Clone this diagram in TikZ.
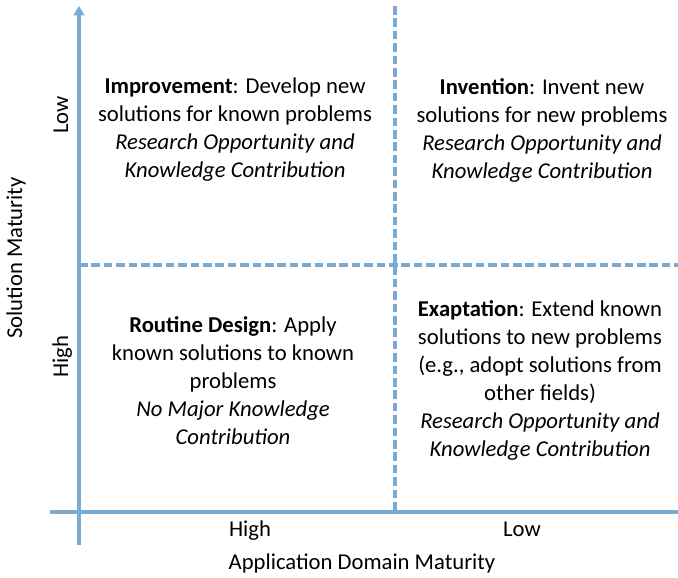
\documentclass[tikz,border=0pt]{standalone}
\usepackage{fontspec}
\setmainfont{Carlito}
\usetikzlibrary{arrows.meta}
\definecolor{axisblue}{RGB}{122,169,210}

\begin{document}
\begin{tikzpicture}[x=0.75pt,y=-0.75pt,
  axis/.style={draw=axisblue, line width=2.5pt},
  divider/.style={draw=axisblue, line width=2.4pt, dash pattern=on 6.5pt off 2.8pt},
  quad/.style={align=center, font=\fontsize{17}{21}\selectfont, inner sep=0pt},
  lbl/.style={font=\fontsize{17}{21}\selectfont, inner sep=0pt, anchor=base}]
\useasboundingbox (0,0) rectangle (678,578);
\coordinate (ytop) at (79,6);
\coordinate (ybot) at (79,545);
\coordinate (xleft) at (50,512);
\coordinate (xright) at (678,512);
\coordinate (vtop) at (395,6);
\coordinate (vbot) at (395,512);
\coordinate (hleft) at (79,265);
\coordinate (hright) at (678,265);
\draw[axis, -{Triangle[length=7pt,width=8pt]}] (ybot) -- (ytop);
\draw[axis] (xleft) -- (xright);
\draw[divider] (vtop) -- (vbot);
\draw[divider] (hleft) -- (hright);
\node[quad] (improve) at (235,130) {\textbf{Improvement}: Develop new\\solutions for known problems\\\textit{Research Opportunity and}\\\textit{Knowledge Contribution}};
\node[quad] (invent) at (542,130) {\textbf{Invention}: Invent new\\solutions for new problems\\\textit{Research Opportunity and}\\\textit{Knowledge Contribution}};
\node[quad] (routine) at (233,381) {\textbf{Routine Design}: Apply\\known solutions to known\\problems\\\textit{No Major Knowledge}\\\textit{Contribution}};
\node[quad] (exapt) at (540,380) {\textbf{Exaptation}: Extend known\\solutions to new problems\\(e.g., adopt solutions from\\other fields)\\\textit{Research Opportunity and}\\\textit{Knowledge Contribution}};
\node[lbl, rotate=90] (ylow) at (68,115) {Low};
\node[lbl, rotate=90] (yhigh) at (68,357) {High};
\node[lbl, rotate=90] (ytitle) at (22,258) {Solution Maturity};
\node[lbl] (xhigh) at (250,536) {High};
\node[lbl] (xlow) at (522,536) {Low};
\node[lbl] (xtitle) at (362,569) {Application Domain Maturity};
\end{tikzpicture}
\end{document}
